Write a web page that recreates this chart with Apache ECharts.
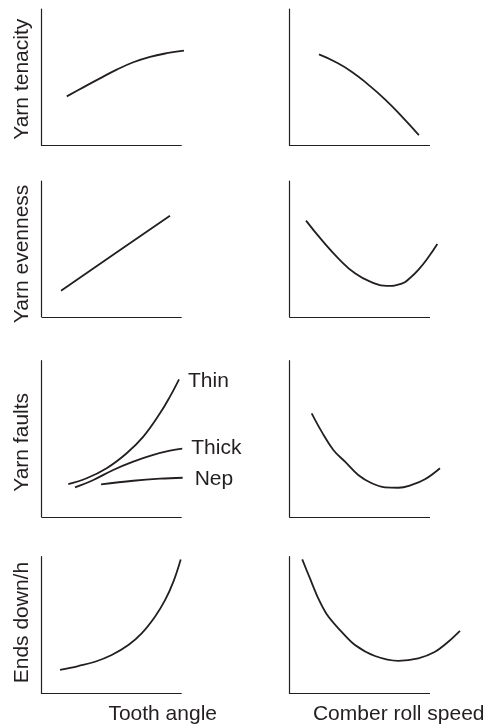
<!DOCTYPE html>
<html><head><meta charset="utf-8">
<script src="https://cdn.jsdelivr.net/npm/echarts@6/dist/echarts.min.js"></script>
<style>html,body{margin:0;padding:0;background:#fff}#c{width:490px;height:726px}</style>
</head><body><div id="c"></div>
<script>
const yTitles = ['Yarn tenacity', 'Yarn evenness', 'Yarn faults', 'Ends down/h'];
const xTitles = ['Tooth angle', 'Comber roll speed'];
const faultLabels = ['Thin', 'Thick', 'Nep'];

// Tooth angle column (values in % of the drawn axis extent)
const tenacityToothX = [17.9, 29.7, 41.6, 53.6, 65.4, 77.4, 89.3, 101.6];
const tenacityToothY = [36.0, 42.6, 49.2, 55.6, 61.0, 65.0, 67.6, 69.5];
const evennessToothX = [13.8, 52.6, 91.6];
const evennessToothY = [19.2, 46.8, 74.4];
const thinToothX = [19.0, 32.1, 46.4, 60.7, 72.6, 84.5, 91.6, 98.1];
const thinToothY = [21.1, 24.8, 31.2, 40.8, 51.4, 66.3, 77.0, 88.1];
const thickToothX = [23.8, 36.9, 51.1, 65.4, 79.7, 91.6, 100.4];
const thickToothY = [19.0, 23.7, 30.1, 35.4, 39.7, 42.4, 43.7];
const nepToothX = [42.4, 65.4, 84.5, 100.7];
const nepToothY = [20.9, 23.2, 24.5, 25.1];
const endsToothX = [13.1, 26.1, 38.1, 50.0, 61.9, 71.4, 80.9, 88.1, 94.0, 99.3];
const endsToothY = [17.2, 20.1, 23.2, 28.1, 35.4, 43.9, 56.1, 68.2, 81.6, 98.0];

// Comber roll speed column
const tenacitySpeedX = [21.1, 32.5, 44.3, 56.1, 68.0, 79.9, 92.1];
const tenacitySpeedY = [66.8, 61.4, 54.1, 44.6, 33.8, 21.3, 7.6];
const evennessSpeedX = [11.9, 23.0, 34.8, 46.7, 58.6, 69.2, 79.9, 85.8, 91.7, 98.8, 105.2];
const evennessSpeedY = [70.8, 56.6, 43.1, 32.0, 25.4, 22.7, 24.4, 28.6, 34.5, 43.8, 53.6];
const faultsSpeedX = [15.9, 23.0, 31.3, 39.6, 49.0, 58.6, 68.0, 77.5, 87.0, 96.4, 107.1];
const faultsSpeedY = [66.3, 54.6, 42.9, 35.4, 26.9, 21.6, 19.0, 18.7, 20.5, 24.1, 31.2];
const endsSpeedX = [9.2, 14.7, 20.6, 26.6, 36.0, 46.7, 60.9, 77.5, 91.7, 103.6, 113.0, 121.3];
const endsSpeedY = [98.0, 84.1, 69.5, 58.0, 46.4, 35.4, 27.4, 23.9, 25.7, 30.5, 37.8, 45.8];

const INK = '#231f20';
const FONT = "'Liberation Sans', Arial, sans-serif";
const rows = [{top: 9, h: 136.5}, {top: 181, h: 135.8}, {top: 360.7, h: 156.3}, {top: 556.7, h: 136.8}];
// axis drawn from 0 to 100; grid extends to xMax so curves may run past the axis end
const cols = [{left: 41.7, w100: 140, xMax: 105}, {left: 289.3, w100: 140.7, xMax: 125}];
const xNamePad = [95, 43];
const yNamePad = [[0, 4, 0, 0], [0, 10, 0, 0], [0, 7, 0, 0], [0, 0, 0, 5]];

const zip = (xs, ys) => xs.map((x, i) => [x, ys[i]]);

const grids = [], xAxes = [], yAxes = [];
rows.forEach((r, ri) => {
  cols.forEach((c, ci) => {
    grids.push({left: c.left, top: r.top, width: c.w100 * c.xMax / 100, height: r.h, containLabel: false});
    const axisBase = {
      type: 'value', min: 0, gridIndex: grids.length - 1,
      axisTick: {show: false}, axisLabel: {show: false}, splitLine: {show: false}
    };
    xAxes.push(Object.assign({}, axisBase, {max: c.xMax, axisLine: {show: false}}, ri === 3 ? {
      name: xTitles[ci], nameLocation: 'middle', nameGap: 10,
      nameTextStyle: {fontSize: 21, color: INK, fontFamily: FONT, padding: [0, 0, 0, xNamePad[ci]]}
    } : {}));
    yAxes.push(Object.assign({}, axisBase, {max: 100,
      axisLine: {show: true, onZero: false, lineStyle: {color: INK, width: 1.2}}}, ci === 0 ? {
      name: yTitles[ri], nameLocation: 'middle', nameGap: 9, nameRotate: 90,
      nameTextStyle: {fontSize: 21, color: INK, fontFamily: FONT, padding: yNamePad[ri]}
    } : {}));
  });
});

const baseline = {
  silent: true, symbol: ['none', 'none'], label: {show: false}, animation: false,
  lineStyle: {type: 'solid', color: INK, width: 1.2},
  data: [[{coord: [0, 0]}, {coord: [100, 0]}]]
};

function line(idx, xs, ys, extra) {
  return Object.assign({
    type: 'line', xAxisIndex: idx, yAxisIndex: idx, data: zip(xs, ys),
    showSymbol: false, symbol: 'none', smooth: 0.4, clip: false,
    lineStyle: {color: INK, width: 1.8}, silent: true
  }, extra || {});
}
const endLab = (name, dist, dy) => ({endLabel: {show: true, formatter: name, distance: dist, offset: [0, dy],
  fontSize: 21, color: INK, fontFamily: FONT}});

const series = [
  line(0, tenacityToothX, tenacityToothY, {markLine: baseline}),
  line(1, tenacitySpeedX, tenacitySpeedY, {markLine: baseline, smooth: 0.5}),
  line(2, evennessToothX, evennessToothY, {markLine: baseline, smooth: false}),
  line(3, evennessSpeedX, evennessSpeedY, {markLine: baseline, smooth: 0.5}),
  line(4, thinToothX, thinToothY, Object.assign({markLine: baseline}, endLab(faultLabels[0], 9, 2))),
  line(4, thickToothX, thickToothY, endLab(faultLabels[1], 9, -0.5)),
  line(4, nepToothX, nepToothY, endLab(faultLabels[2], 12, 1)),
  line(5, faultsSpeedX, faultsSpeedY, {markLine: baseline}),
  line(6, endsToothX, endsToothY, {markLine: baseline}),
  line(7, endsSpeedX, endsSpeedY, {markLine: baseline, smooth: 0.3})
];

const chart = echarts.init(document.getElementById('c'), null, {renderer: 'canvas'});
chart.setOption({
  animation: false,
  backgroundColor: '#fff',
  textStyle: {fontFamily: FONT},
  grid: grids, xAxis: xAxes, yAxis: yAxes, series: series
});
</script></body></html>
